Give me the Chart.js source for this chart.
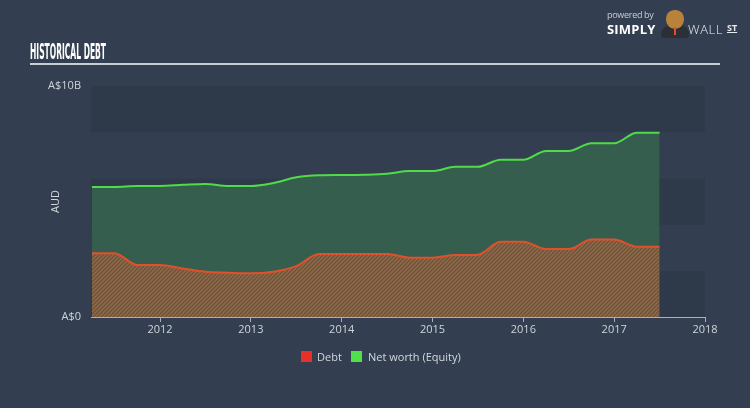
<!DOCTYPE html>
<html>
<head>
<meta charset="utf-8">
<script src="https://cdn.jsdelivr.net/npm/chart.js@4.4.0/dist/chart.umd.min.js"></script>
<style>
  html, body { margin:0; padding:0; width:750px; height:408px; background:#333f50; overflow:hidden; font-family:"Open Sans", Lato, sans-serif; }
  #wrap { position:relative; width:750px; height:408px; }
  #c { position:absolute; left:0; top:0; }
  #title { position:absolute; left:30px; top:39px; font-family:"Liberation Sans Narrow","DejaVu Sans Condensed",sans-serif; font-weight:bold; font-size:22px; color:#ffffff; white-space:nowrap; transform-origin:left top; letter-spacing:0; }
  #rule { position:absolute; left:30px; top:63px; width:690px; height:2px; background:#c9ced6; }
  #legend { position:absolute; top:349px; left:0; width:750px; height:16px; font-size:11px; color:#d3d8de; }
  .sw { position:absolute; top:2px; width:11px; height:11px; }
  .lt { position:absolute; top:0; line-height:15px; white-space:nowrap; }
  #logo { position:absolute; left:600px; top:6px; width:145px; height:36px; color:#fff; }
  #pb { position:absolute; left:7px; top:2px; font-size:9px; color:#c8cdd4; letter-spacing:-0.3px; }
  #simply { position:absolute; left:7px; top:14px; font-family:"Open Sans",sans-serif; font-weight:bold; font-size:13px; letter-spacing:0.2px; }
  #wall { position:absolute; left:88px; top:14px; font-family:"Open Sans",sans-serif; font-weight:300; font-size:13px; letter-spacing:0.6px; color:#e6e9ee; }
  #st { position:absolute; left:127px; top:15px; font-weight:bold; font-size:9px; text-decoration:underline; color:#e6e9ee; }
  #head { position:absolute; left:66px; top:4px; width:18px; height:19px; border-radius:45% 45% 50% 50%; background:#b9823a; }
  #body { position:absolute; left:61px; top:19px; width:28px; height:13px; border-radius:12px 12px 4px 4px; background:#2b2f36; }
  #tie { position:absolute; left:74px; top:21px; width:2px; height:8px; background:#e0502a; }
</style>
</head>
<body>
<div id="wrap">
  <canvas id="c" width="750" height="408"></canvas>
  <div id="title">HISTORICAL DEBT</div>
  <div id="rule"></div>
  <div id="logo">
    <div id="pb">powered by</div>
    <div id="simply">SIMPLY</div>
    <div id="body"></div><div id="head"></div><div id="tie"></div>
    <div id="wall">WALL</div>
    <div id="st">ST</div>
  </div>
  <div id="legend">
    <div class="sw" style="left:301px;background:#e8302a;"></div><div class="lt" style="left:317px;">Debt</div>
    <div class="sw" style="left:351px;background:#4fe04a;"></div><div class="lt" style="left:368px;">Net worth (Equity)</div>
  </div>
</div>
<script>
// ---- data (A$ billions, decimal years) ----
const periods = [2011.25, 2011.5, 2011.75, 2012.0, 2012.25, 2012.5, 2012.75, 2013.0, 2013.25, 2013.5, 2013.75, 2014.0, 2014.25, 2014.5, 2014.75, 2015.0, 2015.25, 2015.5, 2015.75, 2016.0, 2016.25, 2016.5, 2016.75, 2017.0, 2017.25, 2017.5];
const debt =    [2.76, 2.76, 2.25, 2.25, 2.10, 1.96, 1.92, 1.89, 1.96, 2.20, 2.73, 2.73, 2.73, 2.73, 2.57, 2.57, 2.68, 2.70, 3.26, 3.26, 2.94, 2.94, 3.35, 3.35, 3.04, 3.04];
const equity =  [5.63, 5.63, 5.67, 5.67, 5.72, 5.76, 5.67, 5.67, 5.80, 6.05, 6.14, 6.15, 6.16, 6.20, 6.32, 6.32, 6.50, 6.50, 6.81, 6.81, 7.19, 7.19, 7.52, 7.52, 7.98, 7.98];
const yearTicks = [2012, 2013, 2014, 2015, 2016, 2017, 2018];
const valueTicks = [0, 10];
const valueTickLabels = ['A$0', 'A$10B'];
const seriesNames = ['Debt', 'Net worth (Equity)'];

// title width fit
(function(){
  const t = document.getElementById('title');
  const w = t.getBoundingClientRect().width;
  t.style.transform = 'scaleX(' + (76 / w) + ')';
})();

// hatch pattern for debt
function makeHatch() {
  const p = document.createElement('canvas');
  p.width = 4; p.height = 4;
  const g = p.getContext('2d');
  g.fillStyle = '#3c6a50';
  g.fillRect(0, 0, 4, 4);
  g.strokeStyle = '#d2502f';
  g.lineWidth = 1.3;
  g.beginPath();
  g.moveTo(-1, 1); g.lineTo(1, -1);
  g.moveTo(0, 4); g.lineTo(4, 0);
  g.moveTo(3, 5); g.lineTo(5, 3);
  g.stroke();
  return g.createPattern(p, 'repeat');
}
const ctx = document.getElementById('c').getContext('2d');
const hatch = makeHatch();

const bands = {
  id: 'bands',
  beforeDraw(chart) {
    const {ctx, chartArea: a, scales: {y}} = chart;
    ctx.save();
    ctx.fillStyle = '#333f50';
    ctx.fillRect(0, 0, chart.width, chart.height);
    for (let v = 0; v < 10; v += 2) {
      const top = y.getPixelForValue(v + 2), bot = y.getPixelForValue(v);
      ctx.fillStyle = (v / 2) % 2 === 0 ? '#2e3a4a' : '#333f50';
      ctx.fillRect(a.left, top, a.right - a.left, bot - top);
    }
    ctx.restore();
  }
};

new Chart(ctx, {
  type: 'line',
  data: {
    datasets: [
      {
        label: seriesNames[0],
        data: periods.map((p, i) => ({x: p, y: debt[i]})),
        borderColor: '#e2502b',
        borderWidth: 2,
        backgroundColor: hatch,
        fill: 'origin',
        pointRadius: 0,
        cubicInterpolationMode: 'monotone'
      },
      {
        label: seriesNames[1],
        data: periods.map((p, i) => ({x: p, y: equity[i]})),
        borderColor: '#4fdc48',
        borderWidth: 2,
        backgroundColor: '#365e4e',
        fill: 'origin',
        pointRadius: 0,
        cubicInterpolationMode: 'monotone'
      }
    ]
  },
  options: {
    responsive: false,
    animation: false,
    devicePixelRatio: 1,
    layout: { padding: { top: 86, right: 45, bottom: 61, left: 0 } },
    plugins: { legend: { display: false }, tooltip: { enabled: false } },
    scales: {
      x: {
        type: 'linear',
        min: 2011.24,
        max: 2018,
        afterBuildTicks(s) { s.ticks = yearTicks.map(v => ({value: v})); },
        afterFit(s) { s.height = 30; },
        ticks: { color: '#cfd4da', font: { family: 'Open Sans', size: 11 }, padding: 1, maxRotation: 0, autoSkip: false, callback: v => String(v) },
        grid: { display: true, drawOnChartArea: false, drawTicks: true, tickLength: 5, color: '#a9b0ba', lineWidth: 1 },
        border: { display: true, color: '#a9b0ba', width: 1 }
      },
      y: {
        min: 0,
        max: 10,
        afterBuildTicks(s) { s.ticks = valueTicks.map(v => ({value: v})); },
        afterFit(s) { s.width = 91; },
        ticks: { color: '#cfd4da', font: { family: 'Open Sans', size: 11 }, padding: 10, callback: (v) => valueTickLabels[valueTicks.indexOf(v)] },
        grid: { display: false, drawTicks: false },
        border: { display: false },
        title: { display: true, text: 'AUD', color: '#cfd4da', font: { family: 'Open Sans', size: 11 }, padding: { top: 49, bottom: 0 } }
      }
    }
  },
  plugins: [bands]
});
</script>
</body>
</html>
